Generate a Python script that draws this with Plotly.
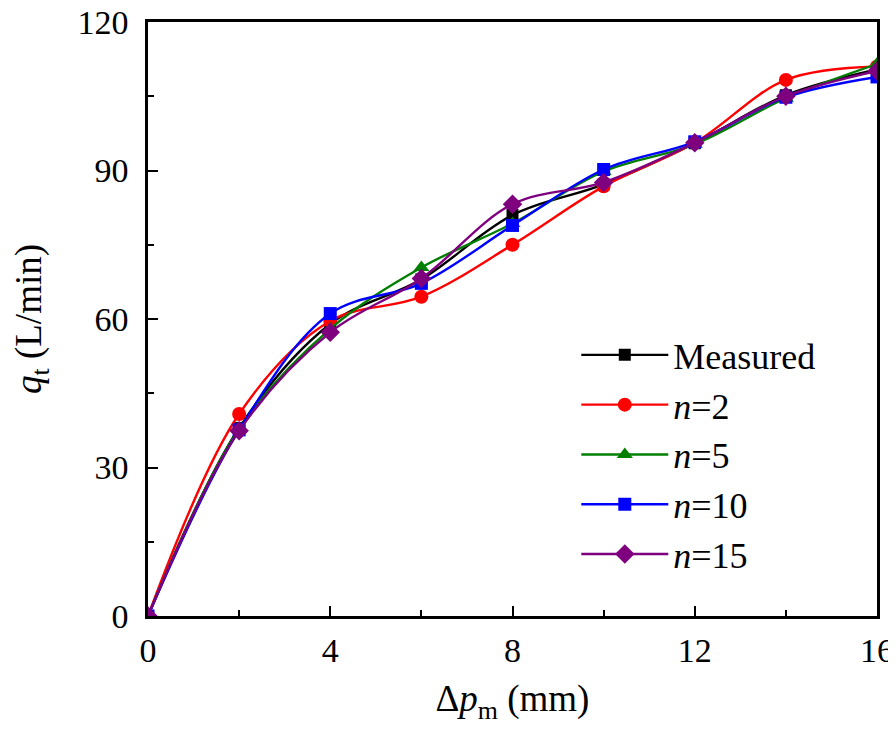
import plotly.graph_objects as go

x_vals = [0, 2, 4, 6, 8, 10, 12, 14, 16]
measured = [0, 38.0, 59.0, 68.0, 81.0, 87.2, 95.5, 105.2, 110.4]
n2 = [0, 40.8, 59.6, 64.5, 75.0, 86.8, 95.6, 108.3, 111.0]
n5 = [0, 37.8, 58.0, 70.4, 79.3, 89.8, 95.3, 104.6, 111.5]
n10 = [0, 37.6, 61.1, 67.2, 78.9, 90.2, 95.8, 104.8, 108.9]
n15 = [0, 37.4, 57.3, 68.2, 83.2, 87.6, 95.6, 105.0, 110.1]

series_names = ["Measured", "<i>n</i>=2", "<i>n</i>=5", "<i>n</i>=10", "<i>n</i>=15"]
series_vals = [measured, n2, n5, n10, n15]
colors = ["#000000", "#ff0000", "#007f00", "#0000ff", "#7f007f"]
symbols = ["square", "circle", "triangle-up", "square", "diamond"]
sizes = [12, 14, 14, 13, 15]

fig = go.Figure()
for name, vals, c, s, sz in zip(series_names, series_vals, colors, symbols, sizes):
    fig.add_trace(go.Scatter(
        x=x_vals, y=vals, name=name, mode="lines+markers",
        line=dict(color=c, width=2.4, shape="spline", smoothing=1.0),
        marker=dict(color=c, symbol=s, size=sz),
    ))

font_family = "Liberation Serif"
fig.update_layout(
    width=888, height=717,
    margin=dict(l=140, r=19, t=14, b=109),
    paper_bgcolor="white", plot_bgcolor="white",
    font=dict(family=font_family, size=34, color="black"),
    showlegend=True,
    legend=dict(
        x=0.5875, y=0.49, xanchor="left", yanchor="top",
        bgcolor="rgba(0,0,0,0)", borderwidth=0,
        font=dict(family=font_family, size=36, color="black"),
        itemwidth=87, tracegroupgap=0,
    ),
)
fig.update_xaxes(
    range=[0, 16], tickvals=[0, 4, 8, 12, 16],
    ticks="inside", ticklen=10, tickwidth=2, tickcolor="black",
    minor=dict(tickvals=[2, 6, 10, 14], ticks="inside", ticklen=6, tickwidth=2, tickcolor="black"),
    showline=True, linecolor="black", linewidth=2.5, mirror=True,
    showgrid=False, zeroline=False, automargin=False,
    ticklabelstandoff=2, ticklabeloverflow="allow",
    tickfont=dict(family=font_family, size=34),
    title=dict(text="Δ<i>p</i><sub>m</sub> (mm)", font=dict(family=font_family, size=37), standoff=18),
)
fig.update_yaxes(
    range=[0, 120], tickvals=[0, 30, 60, 90, 120],
    ticks="inside", ticklen=10, tickwidth=2, tickcolor="black",
    minor=dict(tickvals=[15, 45, 75, 105], ticks="inside", ticklen=6, tickwidth=2, tickcolor="black"),
    showline=True, linecolor="black", linewidth=2.5, mirror=True,
    showgrid=False, zeroline=False, automargin=False,
    ticklabelstandoff=10, ticklabeloverflow="allow",
    tickfont=dict(family=font_family, size=34),
    title=dict(text="<i>q</i><sub>t</sub> (L/min)", font=dict(family=font_family, size=37), standoff=42),
)

fig.write_html("out.html")
